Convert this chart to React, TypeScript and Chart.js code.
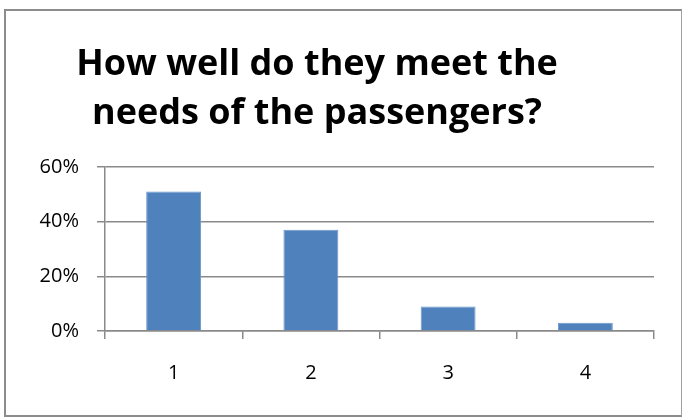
import React, { useEffect, useRef } from "react";
import { Chart, registerables } from "chart.js";

Chart.register(...registerables);

const titleLines = ["How well do they meet the", "needs of the passengers?"];
const categories = ["1", "2", "3", "4"];
const shares = [0.51, 0.37, 0.09, 0.03];
const yTickValues = [0, 0.2, 0.4, 0.6];
const yTickLabels = ["0%", "20%", "40%", "60%"];

const FONT = "'Open Sans', sans-serif";
const GRID = "#8a8a8a";

export default function App() {
  const ref = useRef<HTMLCanvasElement>(null);

  useEffect(() => {
    const chart = new Chart(ref.current!, {
      type: "bar",
      data: {
        labels: categories,
        datasets: [
          {
            data: shares,
            backgroundColor: "#4F81BD",
            borderColor: "#6d97cb",
            borderWidth: 1,
            categoryPercentage: 0.8,
            barPercentage: 0.5,
          },
        ],
      },
      options: {
        responsive: false,
        animation: false,
        layout: { padding: { left: 0, right: 29, top: 0, bottom: 0 } },
        plugins: {
          legend: { display: false },
          tooltip: { enabled: false },
          title: {
            display: true,
            text: titleLines,
            color: "#000",
            font: { family: FONT, size: 36, weight: "bold", lineHeight: 1.36 },
            padding: { top: 40, bottom: 29 },
          },
        },
        scales: {
          x: {
            afterFit: (s: any) => {
              s.height = 87;
            },
            grid: {
              display: true,
              drawOnChartArea: false,
              drawTicks: true,
              offset: true,
              tickLength: 8,
              color: GRID,
              lineWidth: 1.5,
            },
            border: { display: true, color: GRID, width: 1.5 },
            ticks: {
              color: "#000",
              font: { family: FONT, size: 20 },
              padding: 22,
            },
          },
          y: {
            min: 0,
            max: 0.6,
            afterFit: (s: any) => {
              s.width = 125;
            },
            ticks: {
              stepSize: 0.2,
              color: "#000",
              font: { family: FONT, size: 20 },
              padding: 18,
              callback: (value: any) => {
                const v = Number(value);
                const i = yTickValues.findIndex((t) => Math.abs(t - v) < 1e-6);
                return i >= 0 ? yTickLabels[i] : "";
              },
            },
            grid: {
              color: GRID,
              lineWidth: 1.5,
              tickLength: 8,
              drawTicks: true,
            },
            border: { display: true, color: GRID, width: 1.5 },
          },
        },
      },
    });
    return () => chart.destroy();
  }, []);

  return (
    <div
      style={{
        position: "fixed",
        left: 0,
        top: 0,
        width: 683,
        height: 418,
        background: "#fff",
        overflow: "hidden",
      }}
    >
      <div style={{ position: "absolute", left: -20, top: 0, width: 703, height: 418 }}>
        <canvas ref={ref} width={703} height={418} style={{ display: "block" }} />
      </div>
      <div
        style={{
          position: "absolute",
          left: 4,
          top: 9,
          width: 678,
          height: 408,
          boxSizing: "border-box",
          borderTop: "2px solid #8c8c8c",
          borderLeft: "2px solid #8c8c8c",
          borderBottom: "2px solid #8c8c8c",
          borderRight: "1px solid #a0a0a0",
          pointerEvents: "none",
        }}
      />
    </div>
  );
}
